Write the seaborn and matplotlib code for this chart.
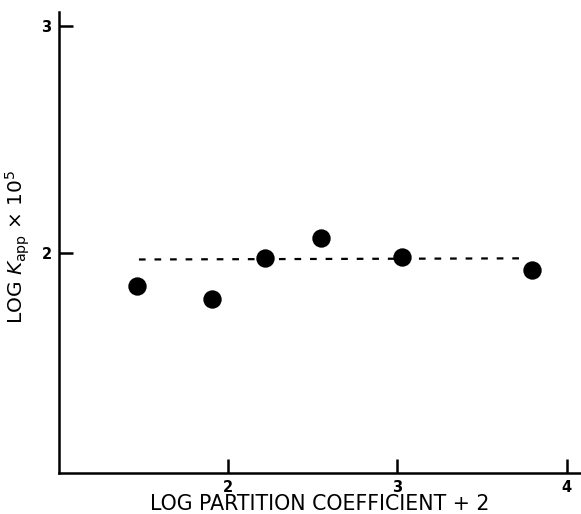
import matplotlib
matplotlib.use("Agg")
import matplotlib.pyplot as plt
import seaborn as sns
import pandas as pd

# Measured points
log_partition = [1.463, 1.906, 2.218, 2.549, 3.027, 3.793]
log_kapp = [1.855, 1.797, 1.978, 2.066, 1.982, 1.925]

# Mean line drawn across the data range
fit_x = [1.475, 3.735]
fit_y = [1.970, 1.975]

x_ticks = [2, 3, 4]
y_ticks = [2, 3]

sns.set_style("ticks")
plt.rcParams["font.family"] = ["DejaVu Sans"]
plt.rcParams["mathtext.fontset"] = "dejavusans"
plt.rcParams["text.color"] = "black"
plt.rcParams["axes.labelcolor"] = "black"
plt.rcParams["xtick.color"] = "black"
plt.rcParams["ytick.color"] = "black"
plt.rcParams["axes.edgecolor"] = "black"

points = pd.DataFrame({"x": log_partition, "y": log_kapp})
fit = pd.DataFrame({"x": fit_x, "y": fit_y})

fig = plt.figure(figsize=(5.81, 5.14), dpi=100)
ax = fig.add_axes([0.1007, 0.0798, 0.8993, 0.897])

sns.lineplot(data=fit, x="x", y="y", ax=ax, color="black", linewidth=1.6,
             linestyle=(0, (3, 4)))
sns.scatterplot(data=points, x="x", y="y", ax=ax, color="black", s=175,
                edgecolor="black", linewidth=0, zorder=3)

ax.set_xlim(1.0, 4.085)
ax.set_ylim(1.03, 3.06)
ax.set_xticks(x_ticks)
ax.set_yticks(y_ticks)
ax.tick_params(axis="both", direction="in", length=10, width=1.8, color="black",
               labelcolor="black", labelsize=10.5)
ax.tick_params(axis="x", pad=5)
ax.tick_params(axis="y", pad=5)
for lab in ax.get_xticklabels() + ax.get_yticklabels():
    lab.set_fontweight("bold")

for side in ("top", "right"):
    ax.spines[side].set_visible(False)
for side in ("left", "bottom"):
    ax.spines[side].set_linewidth(1.8)
    ax.spines[side].set_color("black")

ax.set_xlabel("LOG PARTITION COEFFICIENT + 2", fontsize=14.8, color="black")
ax.xaxis.set_label_coords(0.5, -0.046)
ax.set_ylabel(r"LOG $K_{\mathrm{app}}$ $\times$ 10$^{5}$", fontsize=14.5,
              color="black")
ax.yaxis.set_label_coords(-0.05, 0.49)

fig.savefig("out.png", dpi=100)
